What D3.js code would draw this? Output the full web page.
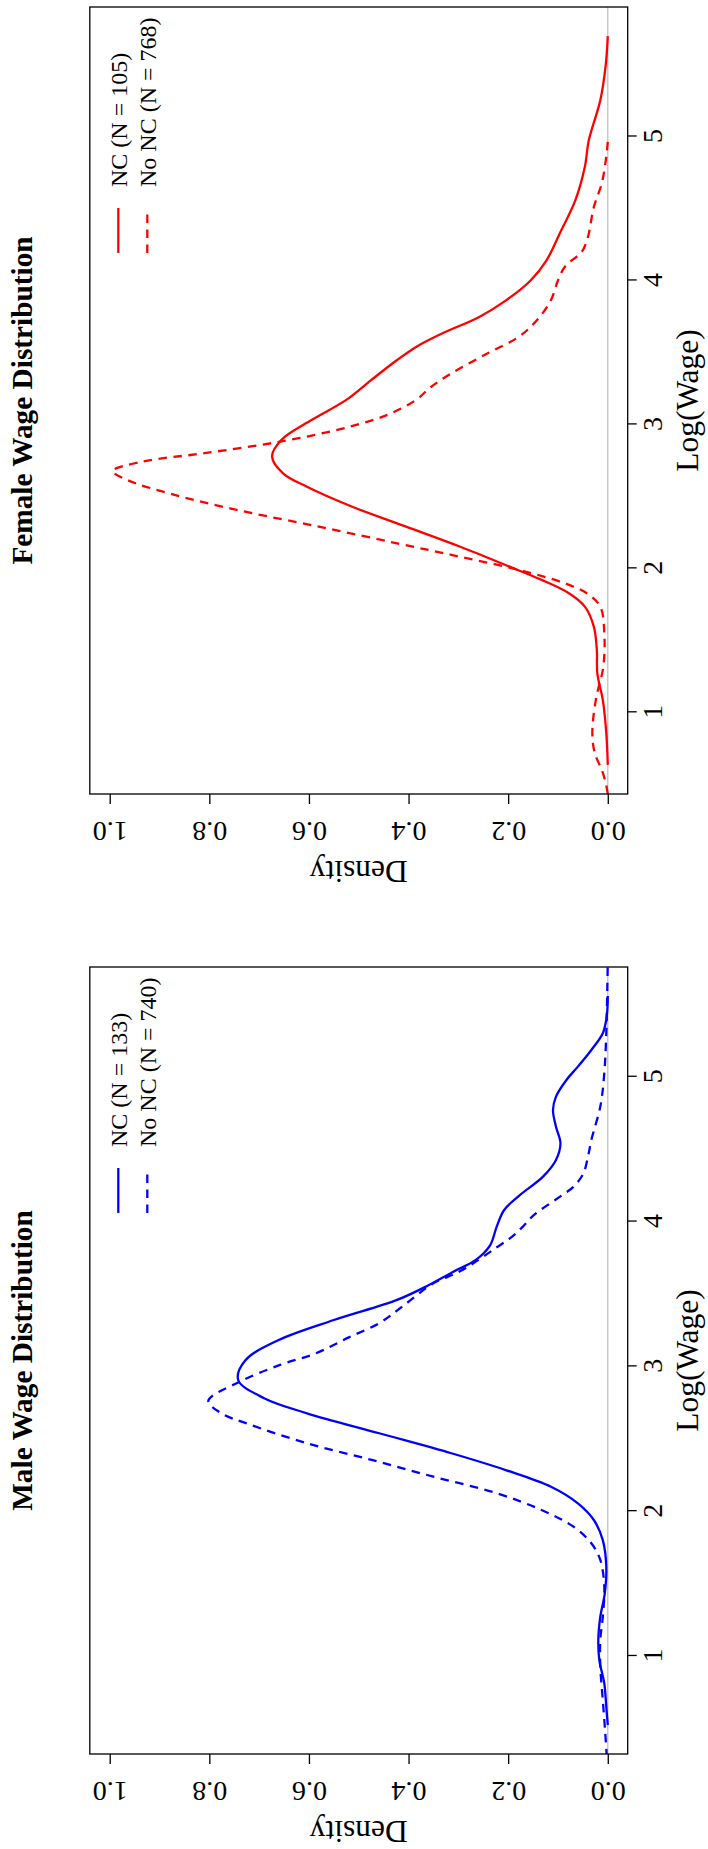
<!DOCTYPE html>
<html>
<head>
  <meta charset="utf-8">
  <title>Male / Female Wage Distribution</title>
  <script src="https://d3js.org/d3.v7.min.js"></script>
  <style>
    body { margin: 0; background: #fff; }
    svg { display: block; font-family: "Liberation Serif", "Times New Roman", serif; }
  </style>
</head>
<body>
<div id="chart"></div>
<script>
  // [log wage, density] pairs
  var maleNC = [[0.523,0.0],[0.65,0.003],[0.811,0.007],[0.972,0.017],[1.11,0.019],[1.271,0.015],[1.433,0.006],
    [1.617,0.003],[1.80,0.010],[1.939,0.028],[2.054,0.060],[2.169,0.114],[2.284,0.205],[2.4,0.314],[2.538,0.459],
    [2.676,0.604],[2.78,0.69],[2.906,0.742],[3.04,0.728],[3.18,0.662],[3.32,0.55],[3.459,0.423],[3.56,0.36],
    [3.654,0.31],[3.735,0.265],[3.838,0.236],[3.965,0.223],[4.08,0.208],[4.184,0.176],[4.31,0.13],[4.425,0.104],
    [4.54,0.095],[4.655,0.104],[4.77,0.110],[4.863,0.104],[4.978,0.083],[5.07,0.060],[5.185,0.033],[5.30,0.010],
    [5.42,0.002],[5.557,0.0]];
  var maleNoNC = [[0.30,0.002],[0.466,0.005],[0.696,0.010],[0.926,0.015],[1.11,0.015],[1.271,0.010],[1.479,0.007],
    [1.663,0.015],[1.778,0.033],[1.893,0.069],[2.008,0.133],[2.124,0.223],[2.238,0.350],[2.354,0.474],[2.469,0.604],
    [2.600,0.72],[2.68,0.778],[2.761,0.802],[2.894,0.739],[3.01,0.658],[3.09,0.586],[3.2,0.52],[3.3,0.458],
    [3.42,0.41],[3.574,0.35],[3.65,0.30],[3.73,0.262],[3.82,0.224],[3.885,0.196],[3.96,0.172],[4.046,0.148],
    [4.172,0.096],[4.24,0.069],[4.333,0.049],[4.46,0.039],[4.564,0.033],[4.794,0.015],[5.024,0.007],[5.3,0.003],
    [5.6,0.001],[5.8,0.0]];
  var femaleNC = [[0.635,0.0],[0.857,0.003],[1.086,0.010],[1.27,0.021],[1.433,0.022],[1.595,0.028],[1.734,0.046],
    [1.827,0.078],[1.92,0.133],[2.01,0.196],[2.15,0.296],[2.29,0.405],[2.428,0.513],[2.567,0.604],[2.66,0.652],
    [2.776,0.674],[2.89,0.656],[3.03,0.595],[3.17,0.525],[3.308,0.475],[3.447,0.423],[3.54,0.384],[3.633,0.332],
    [3.745,0.259],[3.86,0.205],[4.0,0.155],[4.14,0.123],[4.33,0.096],[4.558,0.065],[4.79,0.046],[4.975,0.038],
    [5.252,0.015],[5.5,0.004],[5.697,0.0]];
  var femaleNoNC = [[0.433,0.0],[0.508,0.004],[0.6,0.012],[0.716,0.026],[0.855,0.031],[1.086,0.024],[1.317,0.009],
    [1.549,0.007],[1.734,0.015],[1.827,0.042],[1.897,0.087],[1.989,0.178],[2.08,0.296],[2.174,0.423],[2.29,0.58],
    [2.406,0.745],[2.52,0.88],[2.614,0.965],[2.676,0.994],[2.741,0.935],[2.8,0.81],[2.88,0.658],[2.984,0.518],
    [3.07,0.44],[3.17,0.385],[3.26,0.355],[3.355,0.314],[3.494,0.241],[3.61,0.178],[3.725,0.142],[3.864,0.114],
    [4.0,0.100],[4.1,0.085],[4.2,0.052],[4.3,0.040],[4.51,0.028],[4.676,0.012],[4.86,0.003],[4.963,0.0]];

  var densityTicks = [0, 0.2, 0.4, 0.6, 0.8, 1.0];
  var wageTicks = [1, 2, 3, 4, 5];
  var maleLegend = ["NC (N = 133)", "No NC (N = 740)"];
  var femaleLegend = ["NC (N = 105)", "No NC (N = 768)"];

  var pageW = 708, pageH = 1849;

  var panels = [
    { title: "Male Wage Distribution", color: "#0000ff", left: 95, right: 882,
      xlim: [0.323, 5.758], nc: maleNC, nonc: maleNoNC, legend: maleLegend },
    { title: "Female Wage Distribution", color: "#ff0000", left: 1055, right: 1842,
      xlim: [0.4325, 5.8995], nc: femaleNC, nonc: femaleNoNC, legend: femaleLegend }
  ];

  var svg = d3.select("#chart").append("svg")
    .attr("width", pageW)
    .attr("height", pageH);

  svg.append("rect").attr("width", pageW).attr("height", pageH).attr("fill", "#fff");

  // the figure is an ordinary side-by-side plot, turned a quarter turn counter-clockwise
  var fig = svg.append("g")
    .attr("transform", "translate(0," + pageH + ") rotate(-90)");

  var boxTop = 89.8, boxBottom = 627.7;
  var y = d3.scaleLinear().domain([-0.04, 1.04]).range([boxBottom, boxTop]);

  panels.forEach(function (p, i) {
    var x = d3.scaleLinear().domain(p.xlim).range([p.left, p.right]);
    var g = fig.append("g");

    g.append("clipPath").attr("id", "clip" + i)
      .append("rect")
      .attr("x", p.left).attr("y", boxTop)
      .attr("width", p.right - p.left).attr("height", boxBottom - boxTop);

    g.append("line")
      .attr("x1", p.left).attr("x2", p.right)
      .attr("y1", y(0)).attr("y2", y(0))
      .attr("stroke", "#bebebe").attr("stroke-width", 1.2);

    var line = d3.line()
      .x(function (d) { return x(d[0]); })
      .y(function (d) { return y(d[1]); })
      .curve(d3.curveCatmullRom.alpha(0.5));

    var curves = g.append("g").attr("clip-path", "url(#clip" + i + ")");
    curves.append("path").datum(p.nc)
      .attr("d", line).attr("fill", "none")
      .attr("stroke", p.color).attr("stroke-width", 2.3);
    curves.append("path").datum(p.nonc)
      .attr("d", line).attr("fill", "none")
      .attr("stroke", p.color).attr("stroke-width", 2.3)
      .attr("stroke-dasharray", "8.5,6.5");

    g.append("rect")
      .attr("x", p.left).attr("y", boxTop)
      .attr("width", p.right - p.left).attr("height", boxBottom - boxTop)
      .attr("fill", "none").attr("stroke", "#000").attr("stroke-width", 1.3);

    // Log(Wage) axis
    var xa = g.append("g")
      .attr("transform", "translate(0," + boxBottom + ")")
      .call(d3.axisBottom(x).tickValues(wageTicks).tickFormat(d3.format("d"))
        .tickSize(9).tickPadding(5).tickSizeOuter(0));
    xa.select(".domain").remove();
    xa.selectAll("line").attr("stroke", "#000").attr("stroke-width", 1.3);
    xa.selectAll("text")
      .attr("fill", "#000")
      .style("font-size", "28px")
      .style("font-family", "Liberation Serif, serif");

    // Density axis, labels parallel to the axis
    var ya = g.append("g")
      .attr("transform", "translate(" + p.left + ",0)")
      .call(d3.axisLeft(y).tickValues(densityTicks).tickFormat(d3.format(".1f")).tickSize(10).tickSizeOuter(0));
    ya.select(".domain").remove();
    ya.selectAll("line").attr("stroke", "#000").attr("stroke-width", 1.3);
    ya.selectAll("text")
      .attr("x", 0).attr("dy", null)
      .attr("transform", "translate(-28,0) rotate(-90)")
      .attr("text-anchor", "middle")
      .attr("fill", "#000")
      .style("font-size", "28px")
      .style("font-family", "Liberation Serif, serif");

    var cx = (p.left + p.right) / 2;

    g.append("text")
      .attr("x", cx).attr("y", 32)
      .attr("text-anchor", "middle")
      .style("font-size", "29.3px").style("font-weight", "bold")
      .text(p.title);

    g.append("text")
      .attr("x", cx).attr("y", 698)
      .attr("text-anchor", "middle")
      .style("font-size", "31.5px")
      .text("Log(Wage)");

    g.append("text")
      .attr("transform", "translate(" + (p.left - 67) + "," + ((boxTop + boxBottom) / 2) + ") rotate(-90)")
      .attr("text-anchor", "middle")
      .style("font-size", "31.5px")
      .text("Density");

    // legend, top right, no frame
    p.legend.forEach(function (label, k) {
      var ly = 118.3 + 29 * k;
      g.append("line")
        .attr("x1", p.right - 246).attr("x2", p.right - 201)
        .attr("y1", ly).attr("y2", ly)
        .attr("stroke", p.color).attr("stroke-width", 2.3)
        .attr("stroke-dasharray", k === 1 ? "8.5,6.5" : null);
      g.append("text")
        .attr("x", p.right - 180).attr("y", ly + 8.4)
        .style("font-size", "24px")
        .text(label);
    });
  });
</script>
</body>
</html>
